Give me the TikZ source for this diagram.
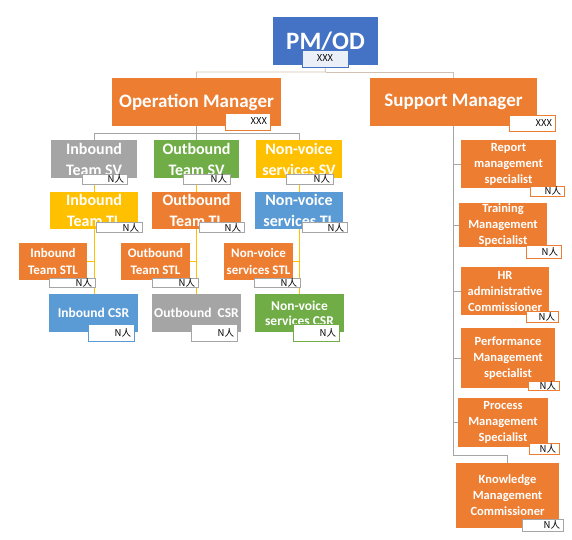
\documentclass[tikz,border=0pt]{standalone}
\usepackage{fontspec}
\setmainfont{Carlito}
\newfontfamily\cjk{Noto Sans CJK SC}
\usepackage{xcolor}
\usepackage{tikz}
\usetikzlibrary{positioning,backgrounds}
\definecolor{pmblue}{HTML}{4472C4}
\definecolor{orng}{HTML}{ED7D31}
\definecolor{gry}{HTML}{A5A5A5}
\definecolor{grn}{HTML}{70AD47}
\definecolor{yel}{HTML}{FFC000}
\definecolor{lblue}{HTML}{5B9BD5}
\definecolor{pmtag}{HTML}{EAEFF8}
\definecolor{lntop}{HTML}{D2C1B2}
\newcommand{\fsz}[2]{\fontsize{#1}{#2}\selectfont}

\begin{document}
\begin{tikzpicture}[x=1pt, y=-1pt,
  box/.style={fill=#1, text=white, align=center, inner sep=0pt},
  sz/.style 2 args={minimum width=#1, minimum height=#2},
  big/.style={font=\bfseries\fsz{25}{25}},
  mgr/.style={font=\bfseries\fsz{19}{22}},
  mid/.style={font=\bfseries\fsz{16}{21}},
  sml/.style={font=\bfseries\fsz{13}{17}},
  csr/.style={font=\bfseries\fsz{13.5}{15}},
  rgt/.style={font=\bfseries\fsz{12.5}{16}},
  tag/.style={draw=#1, fill=white, line width=0.6pt, inner xsep=3pt, inner ysep=0pt,
              align=right, font=\cjk\fsz{9.5}{10}},
  ln/.style={draw=#1, line width=0.8pt}]
  \useasboundingbox (0,0) rectangle (572,539);
  % top
  \node[box=pmblue, big, sz={105pt}{48pt}] (pm) at (325.5,41) {PM/OD};
  \node[tag=pmblue, fill=pmtag, align=center, text width=40pt, minimum height=17pt] (pm-tag) at (325,58.5) {XXX};
  \node[box=orng, mgr, sz={169pt}{48pt}] (op) at (196.5,102) {Operation Manager};
  \node[tag=orng, text width=39pt, minimum height=17pt] (op-tag) at (247.5,121.5) {XXX};
  \node[box=orng, mgr, sz={167pt}{48pt}] (sup) at (453.5,102) {Support Manager};
  \node[tag=orng, text width=40pt, minimum height=16pt] (sup-tag) at (532,123) {XXX};
  % SV row
  \node[box=gry, mid, sz={86pt}{38pt}] (in-sv) at (94,159) {Inbound\\Team SV};
  \node[tag=gry, text width=39pt, minimum height=10pt] (in-sv-tag) at (104.5,179) {N人};
  \node[box=grn, mid, sz={85pt}{38pt}] (out-sv) at (196.5,159) {Outbound\\Team SV};
  \node[tag=gry, text width=41pt, minimum height=10pt] (out-sv-tag) at (206.5,179) {N人};
  \node[box=yel, mid, sz={86pt}{38pt}] (nv-sv) at (299,159) {Non-voice\\services SV};
  \node[tag=gry, text width=41pt, minimum height=10pt] (nv-sv-tag) at (309.5,179) {N人};
  % TL row
  \node[box=yel, mid, sz={88pt}{37pt}] (in-tl) at (94,210.5) {Inbound\\Team TL};
  \node[tag=gry, text width=40pt, minimum height=10pt] (in-tl-tag) at (119,227.5) {N人};
  \node[box=orng, mid, sz={89pt}{37pt}] (out-tl) at (196.5,210.5) {Outbound\\Team TL};
  \node[tag=gry, text width=39pt, minimum height=10pt] (out-tl-tag) at (221.5,227.5) {N人};
  \node[box=lblue, mid, sz={88pt}{37pt}] (nv-tl) at (299,210.5) {Non-voice\\services TL};
  \node[tag=gry, text width=39pt, minimum height=10pt] (nv-tl-tag) at (324.5,227.5) {N人};
  % STL row
  \node[box=orng, sml, sz={68pt}{37pt}] (in-stl) at (53,261.5) {Inbound\\Team STL};
  \node[tag=gry, text width=40pt, minimum height=9pt] (in-stl-tag) at (72,282.5) {N人};
  \node[box=orng, sml, sz={69pt}{37pt}] (out-stl) at (155.5,261.5) {Outbound\\Team STL};
  \node[tag=gry, text width=40pt, minimum height=9pt] (out-stl-tag) at (175,282.5) {N人};
  \node[box=orng, sml, sz={69pt}{37pt}] (nv-stl) at (258.5,261.5) {Non-voice\\services STL};
  \node[tag=gry, text width=40pt, minimum height=9pt] (nv-stl-tag) at (277,282.5) {N人};
  % CSR row
  \node[box=lblue, csr, sz={89pt}{38pt}] (in-csr) at (93.5,313) {Inbound CSR};
  \node[tag=lblue, text width=40pt, minimum height=17pt] (in-csr-tag) at (111,333) {N人};
  \node[box=gry, csr, sz={89pt}{38pt}] (out-csr) at (196.5,313) {Outbound\ \ CSR};
  \node[tag=gry, text width=40pt, minimum height=17pt] (out-csr-tag) at (214,333) {N人};
  \node[box=grn, csr, sz={89pt}{38pt}] (nv-csr) at (299.5,313) {Non-voice\\services CSR};
  \node[tag=grn, text width=40pt, minimum height=17pt] (nv-csr-tag) at (316,333) {N人};
  % support column
  \node[box=orng, rgt, sz={95pt}{48pt}] (rep) at (508.5,164) {Report\\management\\specialist};
  \node[tag=orng, text width=28pt, minimum height=10pt] (rep-tag) at (547,191) {N人};
  \node[box=orng, rgt, sz={88pt}{44pt}] (trn) at (503,225) {Training\\Management\\Specialist};
  \node[tag=orng, text width=29pt, minimum height=13pt] (trn-tag) at (543.5,251.5) {N人};
  \node[box=orng, rgt, sz={88pt}{48pt}] (hr) at (505,291) {HR\\administrative\\Commissioner};
  \node[tag=orng, text width=26pt, minimum height=11pt] (hr-tag) at (542,316.5) {N人};
  \node[box=orng, rgt, sz={94pt}{60pt}] (perf) at (508,358) {Performance\\Management\\specialist};
  \node[tag=orng, text width=25pt, minimum height=9pt] (perf-tag) at (543.5,385.5) {N人};
  \node[box=orng, rgt, sz={90pt}{49pt}] (proc) at (503,422.5) {Process\\Management\\Specialist};
  \node[tag=orng, text width=24pt, minimum height=11pt] (proc-tag) at (544,448.5) {N人};
  \node[box=orng, rgt, sz={103pt}{65pt}] (km) at (507.5,495.5) {Knowledge\\Management\\Commissioner};
  \node[tag=gry, text width=35pt, minimum height=12pt] (km-tag) at (542.5,525) {N人};
  % connectors
  \begin{scope}[on background layer]
    \fill[white] (0,0) rectangle (572,539);
    \coordinate (pm-split) at (325.5,72);
    \draw[ln=lntop] (pm-tag.south) -- (pm-split) -| (op.north);
    \draw[ln=lntop] (pm-split) -| (sup.north);
    \coordinate (op-split) at (196.5,133);
    \draw[ln=gry] (op.south) -- (op-split) -| (in-sv.north);
    \draw[ln=gry] (op-split) -| (nv-sv.north);
    \draw[ln=gry] (op-split) -- (out-sv.north);
    \draw[ln=yel] (in-sv.south) -- (in-tl.north);
    \draw[ln=yel] (out-sv.south) -- (out-tl.north);
    \draw[ln=yel] (nv-sv.south) -- (nv-tl.north);
    \draw[ln=yel] (in-tl.south) -- (in-tl.south |- in-csr.north);
    \draw[ln=yel] (out-tl.south) -- (out-tl.south |- out-csr.north);
    \draw[ln=yel] (nv-tl.south) -- (nv-tl.south |- nv-csr.north);
    \draw[ln=yel] (in-stl.east) -- (in-stl.east -| in-tl.south);
    \draw[ln=yel] (out-stl.east) -- (out-stl.east -| out-tl.south);
    \draw[ln=yel] (nv-stl.east) -- (nv-stl.east -| nv-tl.south);
    \coordinate (sup-end) at (453.5,455);
    \draw[ln=gry] (sup.south) -- (sup-end) -| (km.north);
    \draw[ln=gry] (rep.west -| sup.south) -- (rep.west);
    \draw[ln=gry] (trn.west -| sup.south) -- (trn.west);
    \draw[ln=gry] (hr.west -| sup.south) -- (hr.west);
    \draw[ln=gry] (perf.west -| sup.south) -- (perf.west);
    \draw[ln=gry] (proc.west -| sup.south) -- (proc.west);
  \end{scope}
\end{tikzpicture}
\end{document}
